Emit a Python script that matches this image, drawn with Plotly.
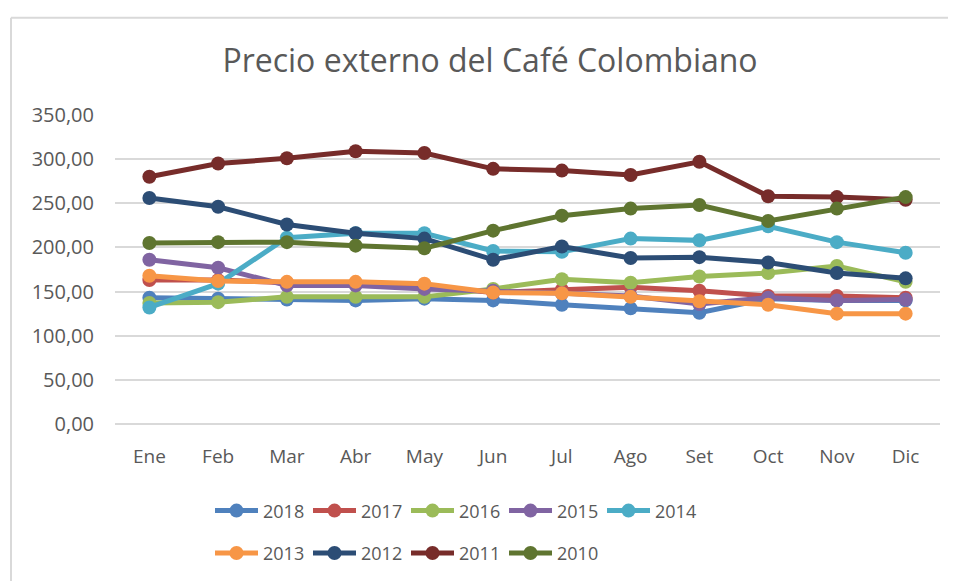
import plotly.graph_objects as go

months = ["Ene", "Feb", "Mar", "Abr", "May", "Jun", "Jul", "Ago", "Set", "Oct", "Nov", "Dic"]

y2018 = [143, 142, 141, 140, 142, 140, 135, 131, 126, 142, 140, 140]
y2017 = [163, 163, 160, 159, 156, 149, 152, 155, 151, 145, 145, 143]
y2016 = [137, 138, 144, 144, 144, 153, 164, 160, 167, 171, 179, 161]
y2015 = [186, 177, 157, 157, 153, 151, 148, 145, 136, 143, 140, 141]
y2014 = [132, 159, 211, 216, 216, 196, 195, 210, 208, 224, 206, 194]
y2013 = [168, 162, 161, 161, 159, 149, 148, 144, 139, 135, 125, 125]
y2012 = [256, 246, 226, 216, 210, 186, 201, 188, 189, 183, 171, 165]
y2011 = [280, 295, 301, 309, 307, 289, 287, 282, 297, 258, 257, 254]
y2010 = [205, 206, 206, 202, 199, 219, 236, 244, 248, 230, 244, 257]

series = [
    ("2018", y2018, "#4F81BD", "legend"),
    ("2017", y2017, "#C0504D", "legend"),
    ("2016", y2016, "#9BBB59", "legend"),
    ("2015", y2015, "#8064A2", "legend"),
    ("2014", y2014, "#4BACC6", "legend"),
    ("2013", y2013, "#F79646", "legend2"),
    ("2012", y2012, "#2C4D75", "legend2"),
    ("2011", y2011, "#772C2A", "legend2"),
    ("2010", y2010, "#5F7530", "legend2"),
]

FONT = "Open Sans"
GRAY = "#595959"
OFFX, OFFY = 8, 5  # page offset of the figure in the window

fig = go.Figure()
for name, vals, color, lg in series:
    fig.add_trace(go.Scatter(
        x=months, y=vals, name=name, mode="lines+markers",
        line=dict(color=color, width=5),
        marker=dict(color=color, size=14),
        legend=lg,
    ))

# plot area in screen px: x 115..940, y 112..425
def px_x(p):
    return (p - 115) / 825.0

def px_y(p):
    return (425 - p) / 313.0

W, H = 956 - OFFX, 581 - OFFY

legend_common = dict(
    orientation="h", xanchor="left", yanchor="middle",
    font=dict(family=FONT, size=18, color=GRAY),
    bgcolor="rgba(0,0,0,0)", entrywidth=40, entrywidthmode="pixels",
    itemwidth=43, tracegroupgap=0,
)

fig.update_layout(
    width=W, height=H,
    paper_bgcolor="white", plot_bgcolor="white",
    margin=dict(l=115 - OFFX, r=956 - 940, t=112 - OFFY, b=581 - 425),
    separators=",.",
    title=dict(
        text="Precio externo del Café Colombiano",
        font=dict(family=FONT, size=32, color=GRAY),
        x=(490 - OFFX) / W, xanchor="center", y=1 - (58 - OFFY) / H, yanchor="middle",
    ),
    xaxis=dict(
        type="category", range=[-0.5, 11.5],
        showgrid=False, showline=False, zeroline=False,
        ticks="", tickfont=dict(family=FONT, size=19, color=GRAY),
        ticklabelstandoff=19,
    ),
    yaxis=dict(
        range=[0, 350], dtick=50, tickformat=".2f",
        showgrid=True, gridcolor="#D9D9D9", gridwidth=1.5,
        zeroline=True, zerolinecolor="#D9D9D9", zerolinewidth=1.5,
        showline=False, ticks="",
        tickfont=dict(family=FONT, size=20, color=GRAY),
        ticklabelstandoff=20,
    ),
    legend=dict(x=px_x(210), y=px_y(513), **legend_common),
    legend2=dict(x=px_x(210), y=px_y(556), **legend_common),
    shapes=[
        dict(type="line", xref="paper", yref="paper",
             x0=px_x(11), x1=px_x(970), y0=px_y(13.5), y1=px_y(13.5),
             line=dict(color="#D9D9D9", width=2)),
        dict(type="line", xref="paper", yref="paper",
             x0=px_x(11), x1=px_x(11), y0=px_y(13.5), y1=px_y(600),
             line=dict(color="#D9D9D9", width=2)),
    ],
)

fig.write_html("out.html")
